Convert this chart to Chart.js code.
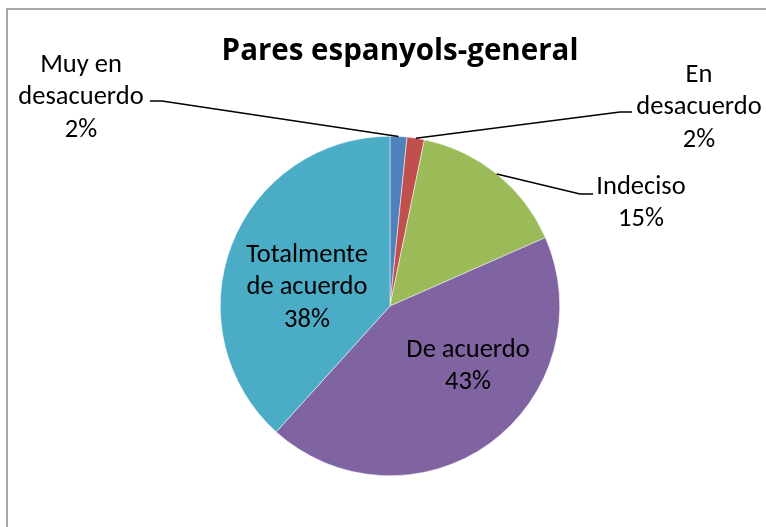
<!DOCTYPE html>
<html>
<head>
<meta charset="utf-8">
<script src="https://cdn.jsdelivr.net/npm/chart.js@4/dist/chart.umd.min.js"></script>
<style>
html,body{margin:0;padding:0;background:#fff;}
#wrap{position:relative;width:766px;height:527px;}
canvas{display:block;}
</style>
</head>
<body>
<div id="wrap"><canvas id="c" width="766" height="527"></canvas></div>
<script>
// ---- data ----
const title = "Pares espanyols-general";
const categories = ["Muy en desacuerdo", "En desacuerdo", "Indeciso", "De acuerdo", "Totalmente de acuerdo"];
const labelLines = [["Muy en", "desacuerdo"], ["En", "desacuerdo"], ["Indeciso"], ["De acuerdo"], ["Totalmente", "de acuerdo"]];
const values = [1.6, 1.65, 15.15, 43.3, 38.3];
const colors = ["#4F81BD", "#C0504D", "#9BBB59", "#8064A2", "#4BACC6"];

// ---- label layout (text block centers, first line middle y) ----
const labelLayout = [
  {x: 81, y: 65, outside: true, hook: {x: 150, y: 101}, hookEnd: {x: 162, y: 101}},
  {x: 699, y: 75, outside: true, hook: {x: 632, y: 112}, hookEnd: {x: 620, y: 112}},
  {x: 641, y: 187, outside: true, hook: {x: 593, y: 194}, hookEnd: {x: 580, y: 194}},
  {x: 468, y: 350, outside: false},
  {x: 307, y: 255, outside: false}
];
const FONT = "Carlito, Lato, 'Open Sans', sans-serif";
const lineH = 32.5;

const labelPlugin = {
  id: 'labels',
  afterDraw(chart) {
    const ctx = chart.ctx;
    const meta = chart.getDatasetMeta(0);
    const total = values.reduce((a, b) => a + b, 0);
    ctx.save();
    // frame
    ctx.strokeStyle = '#8a8a8a';
    ctx.lineWidth = 1.5;
    ctx.beginPath();
    ctx.moveTo(7, 527);
    ctx.lineTo(7, 9);
    ctx.lineTo(766, 9);
    ctx.stroke();
    // title
    ctx.fillStyle = '#000';
    ctx.textAlign = 'center';
    ctx.textBaseline = 'middle';
    ctx.font = "bold 29.5px 'Open Sans', sans-serif";
    ctx.fillText(title, 400, 52);
    // labels
    ctx.font = "26.5px " + FONT;
    meta.data.forEach((arc, i) => {
      const L = labelLayout[i];
      const pct = Math.round(values[i] / total * 100) + "%";
      const lines = labelLines[i].concat([pct]);
      lines.forEach((t, k) => ctx.fillText(t, L.x, L.y + k * lineH));
      if (L.outside) {
        const p = arc.getProps(['x', 'y', 'startAngle', 'endAngle', 'outerRadius'], true);
        const mid = (p.startAngle + p.endAngle) / 2;
        const ax = p.x + Math.cos(mid) * p.outerRadius;
        const ay = p.y + Math.sin(mid) * p.outerRadius;
        ctx.strokeStyle = '#000';
        ctx.lineWidth = 1.5;
        ctx.beginPath();
        ctx.moveTo(L.hook.x, L.hook.y);
        ctx.lineTo(L.hookEnd.x, L.hookEnd.y);
        ctx.lineTo(ax, ay);
        ctx.stroke();
      }
    });
    ctx.restore();
  }
};

new Chart(document.getElementById('c'), {
  type: 'pie',
  data: {
    labels: categories,
    datasets: [{
      data: values,
      backgroundColor: colors,
      borderColor: '#ffffff',
      borderWidth: 0.5
    }]
  },
  options: {
    responsive: false,
    animation: false,
    events: [],
    layout: {padding: {left: 220, right: 206, top: 136, bottom: 51}},
    plugins: {legend: {display: false}, tooltip: {enabled: false}, title: {display: false}}
  },
  plugins: [labelPlugin]
});
</script>
</body>
</html>
